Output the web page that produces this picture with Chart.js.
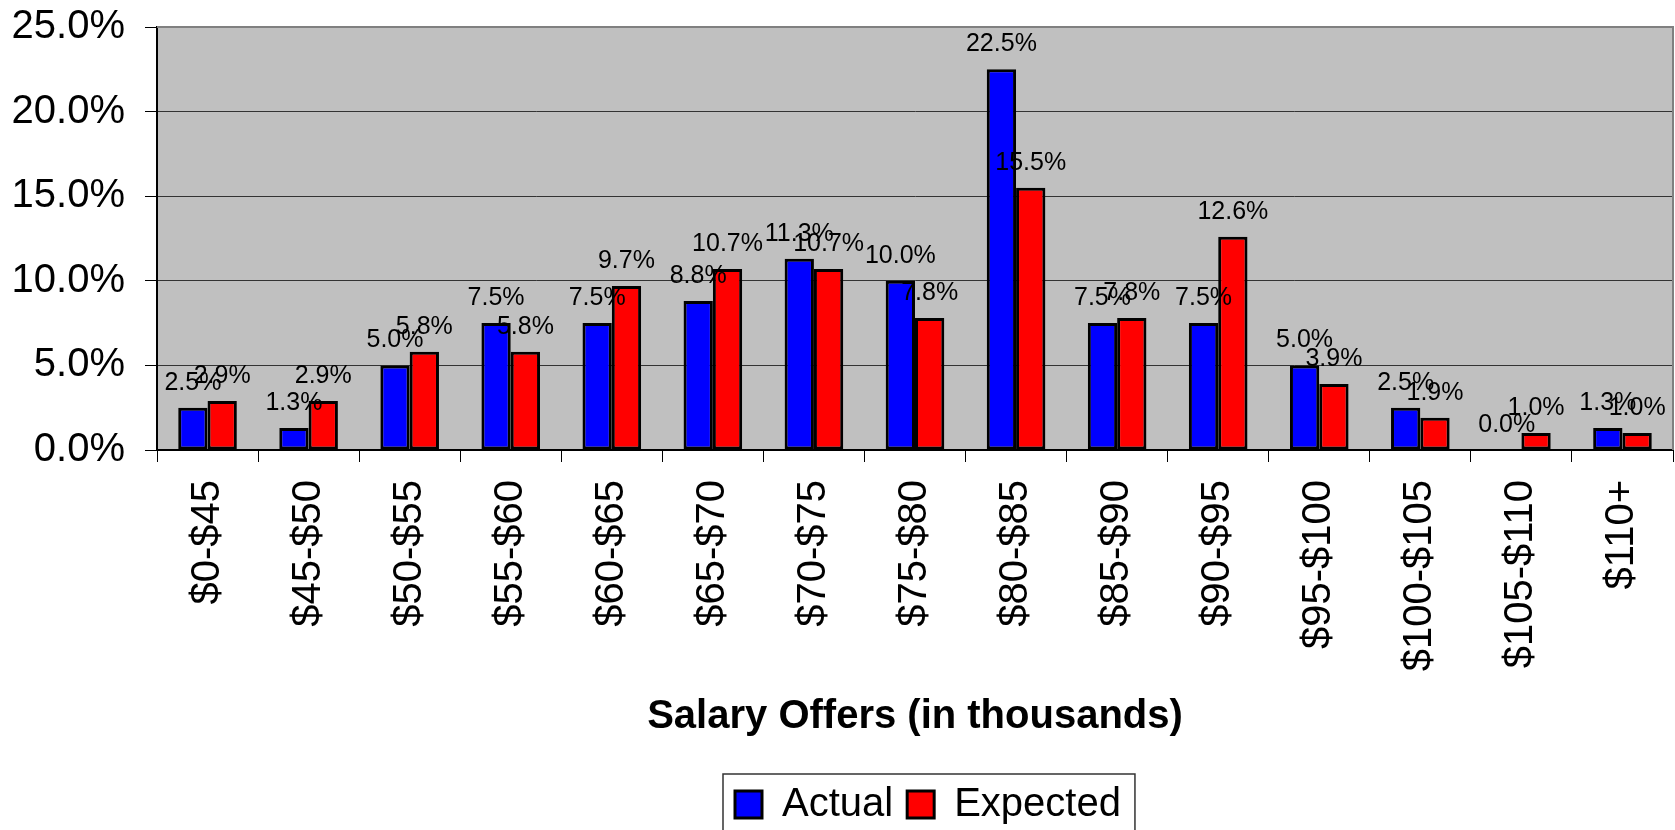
<!DOCTYPE html>
<html>
<head>
<meta charset="utf-8">
<title>Salary Offers</title>
<script src="https://cdn.jsdelivr.net/npm/chart.js@4.4.1/dist/chart.umd.min.js"></script>
<style>
    html, body { margin: 0; padding: 0; background: #fff; overflow: hidden; }
    #wrap { width: 1675px; height: 900px; }
</style>
</head>
<body>
<div id="wrap"><canvas id="salary-chart" width="1675" height="900"></canvas></div>
<script>
// Chart data
const categories = ['$0-$45', '$45-$50', '$50-$55', '$55-$60', '$60-$65', '$65-$70', '$70-$75',
    '$75-$80', '$80-$85', '$85-$90', '$90-$95', '$95-$100', '$100-$105', '$105-$110', '$110+'];
const actualPct = [2.5, 1.3, 5.0, 7.5, 7.5, 8.8, 11.3, 10.0, 22.5, 7.5, 7.5, 5.0, 2.5, 0.0, 1.3];
const expectedPct = [2.9, 2.9, 5.8, 5.8, 9.7, 10.7, 10.7, 7.8, 15.5, 7.8, 12.6, 3.9, 1.9, 1.0, 1.0];
const seriesNames = ['Actual', 'Expected'];
const yMax = 25;
const yStep = 5;

const FONT = "'Liberation Sans', Arial, sans-serif";
Chart.defaults.font.family = FONT;
Chart.defaults.color = '#000';

// where the plot should end up (px)
const PLOT_BOTTOM = 450;
const LEGEND_ROW_TOP = 784.5;

// grey plot background + grey top/right frame
const plotFrame = {
    id: 'plotFrame',
    beforeDraw(chart) {
        const a = chart.chartArea;
        const ctx = chart.ctx;
        ctx.save();
        ctx.fillStyle = '#C0C0C0';
        ctx.fillRect(a.left, a.top, a.right - a.left, a.bottom - a.top);
        ctx.restore();
    },
    afterDatasetsDraw(chart) {
        const a = chart.chartArea;
        const ctx = chart.ctx;
        ctx.save();
        ctx.strokeStyle = '#808080';
        ctx.lineWidth = 2;
        ctx.beginPath();
        ctx.moveTo(a.left, a.top);
        ctx.lineTo(a.right, a.top);
        ctx.lineTo(a.right, a.bottom);
        ctx.stroke();
        ctx.restore();
    }
};

// value labels above each bar
const barLabels = {
    id: 'barLabels',
    afterDatasetsDraw(chart) {
        const ctx = chart.ctx;
        ctx.save();
        ctx.font = '25px ' + FONT;
        ctx.fillStyle = '#000';
        ctx.textAlign = 'center';
        ctx.textBaseline = 'middle';
        chart.data.datasets.forEach((ds, i) => {
            chart.getDatasetMeta(i).data.forEach((bar, j) => {
                ctx.fillText(ds.data[j].toFixed(1) + '%', bar.x, bar.y - 25);
            });
        });
        ctx.restore();
    }
};

// move the legend to where the original has it, and box it
const legendBox = {
    id: 'legendBox',
    afterLayout(chart) {
        const lg = chart.legend;
        const pad = lg.options.labels.padding;
        const start = (lg.left + pad + lg.right - lg.lineWidths[0]) / 2;
        const dx = 735 - start;
        lg.left += dx;
        lg.right += dx;
        const dy = LEGEND_ROW_TOP - pad - lg.top;
        lg.top += dy;
        lg.bottom += dy;
    },
    afterDraw(chart) {
        const boxes = chart.legend.legendHitBoxes;
        if (!boxes || !boxes.length) return;
        const first = boxes[0];
        const last = boxes[boxes.length - 1];
        const ctx = chart.ctx;
        ctx.save();
        ctx.strokeStyle = '#333';
        ctx.lineWidth = 1.5;
        const left = first.left - 12;
        const right = last.left + last.width + 14;
        ctx.strokeRect(left, first.top - 10.5, right - left, 120);
        ctx.restore();
    }
};

const chart = new Chart(document.getElementById('salary-chart'), {
    type: 'bar',
    data: {
        labels: categories,
        datasets: [{
            label: seriesNames[0],
            data: actualPct,
            backgroundColor: '#0000FF',
            borderColor: '#000',
            borderWidth: 3,
            borderSkipped: false
        }, {
            label: seriesNames[1],
            data: expectedPct,
            backgroundColor: '#FF0000',
            borderColor: '#000',
            borderWidth: 3,
            borderSkipped: false
        }]
    },
    options: {
        responsive: false,
        animation: false,
        devicePixelRatio: 1,
        datasets: {
            bar: { barPercentage: 1.0, categoryPercentage: 0.58 }
        },
        layout: {
            padding: { top: 27, right: 2, left: 0, bottom: 80 }
        },
        plugins: {
            tooltip: { enabled: false },
            legend: {
                position: 'bottom',
                labels: {
                    font: { size: 40 },
                    color: '#000',
                    boxWidth: 27,
                    boxHeight: 27,
                    padding: 14
                }
            }
        },
        scales: {
            x: {
                afterFit(scale) {
                    scale.height = 291;
                    scale.paddingLeft = 0;
                    scale.paddingRight = 0;
                },
                grid: {
                    offset: true,
                    drawOnChartArea: false,
                    drawTicks: true,
                    tickLength: 12,
                    color: '#000',
                    lineWidth: 1
                },
                border: { color: '#000', width: 2 },
                ticks: {
                    font: { size: 40 },
                    color: '#000',
                    minRotation: 90,
                    maxRotation: 90,
                    autoSkip: false,
                    padding: 18
                },
                title: {
                    display: true,
                    text: 'Salary Offers (in thousands)',
                    font: { size: 40, weight: 'bold' },
                    color: '#000',
                    padding: { top: 20, bottom: 0 }
                }
            },
            y: {
                min: 0,
                max: yMax,
                afterFit(scale) {
                    scale.width = 157;
                    scale.paddingTop = 0;
                    scale.paddingBottom = 0;
                },
                grid: {
                    color: '#333',
                    tickColor: '#000',
                    tickLength: 12,
                    lineWidth: 1
                },
                border: { color: '#000', width: 2 },
                ticks: {
                    stepSize: yStep,
                    font: { size: 40 },
                    color: '#000',
                    padding: 20,
                    callback: value => value.toFixed(1) + '%'
                }
            }
        }
    },
    plugins: [plotFrame, barLabels, legendBox]
});

// nudge bottom padding so the plot bottom lands on the axis line of the original
const gap = chart.chartArea.bottom - PLOT_BOTTOM;
if (Math.abs(gap) > 0.5) {
    chart.options.layout.padding.bottom += gap;
    chart.update();
}
</script>
</body>
</html>
